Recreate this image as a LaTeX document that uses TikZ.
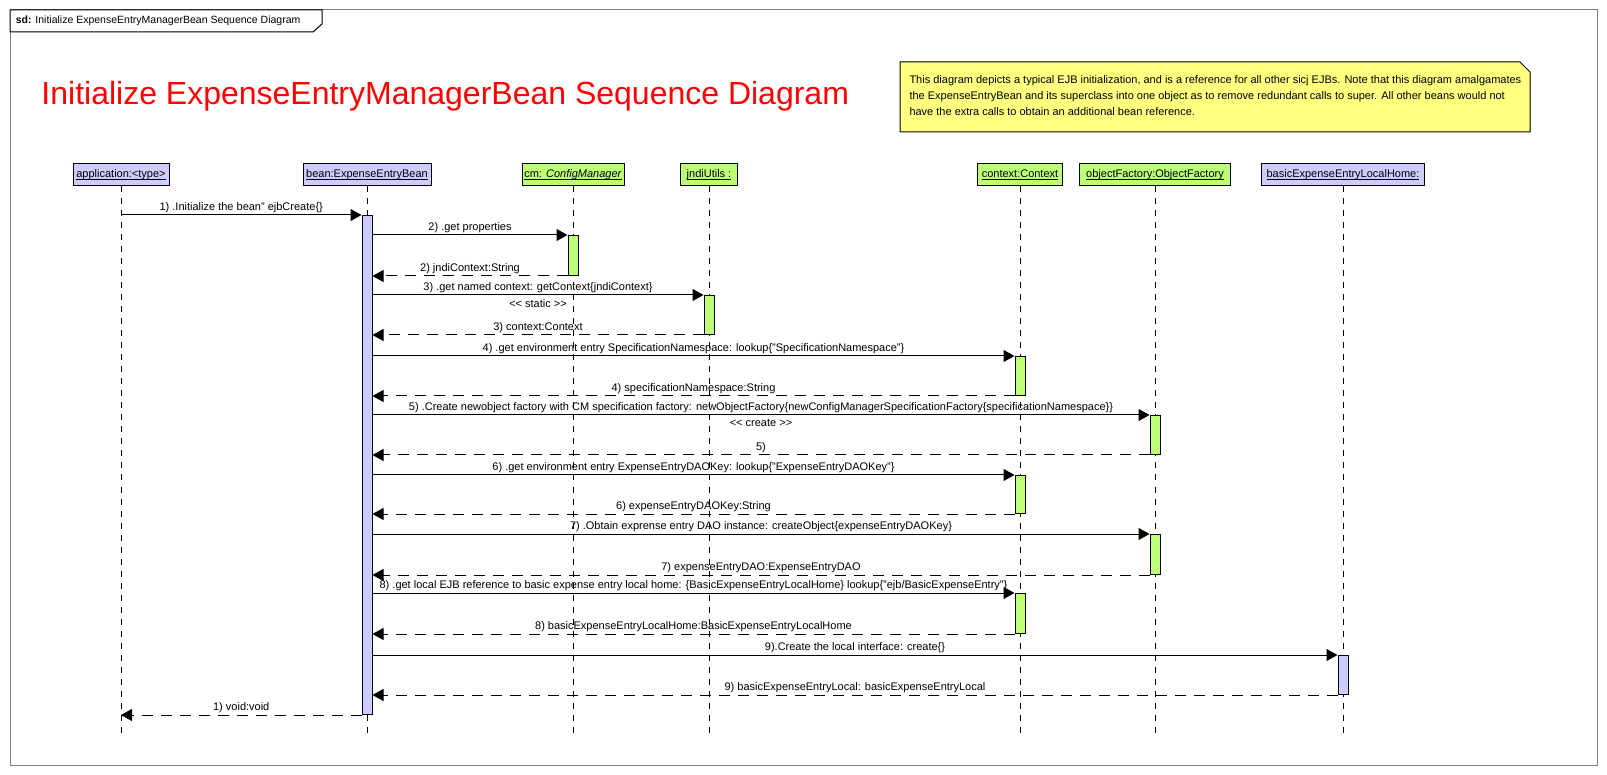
\documentclass[tikz,border=0pt]{standalone}
\usepackage{fontspec}
\setmainfont{Liberation Sans}
\usetikzlibrary{arrows.meta}

\definecolor{headblue}{RGB}{204,204,255}
\definecolor{headgreen}{RGB}{190,255,120}
\definecolor{noteyellow}{RGB}{255,255,128}
\definecolor{framegray}{RGB}{128,128,128}

\newcommand{\headname}[1]{\setbox0\hbox{#1}\rlap{\rule[-2pt]{\wd0}{0.9pt}}\box0}

\begin{document}
\begin{tikzpicture}[
        x=1pt, y=-1pt, line width=1pt,
        every node/.style={font=\fontsize{11}{13}\selectfont},
        headbox/.style={draw, minimum height=22, inner xsep=2, inner ysep=0},
        actbar/.style={draw, anchor=north, minimum width=10, inner sep=0},
        lifeline/.style={dash pattern=on 6pt off 6pt},
        call/.style={-{Triangle[length=11pt,width=12pt]}},
        ret/.style={call, dash pattern=on 11pt off 8pt},
        msg/.style={midway, above, inner sep=2pt},
        stereo/.style={midway, below, inner sep=4pt}
    ]
        \useasboundingbox (0,0) rectangle (1607,775);

        \draw[framegray] (10,10) rectangle (1597,765);
        \draw[fill=white] (10,10) -- (322,10) -- (322,24) -- (313,32) -- (10,32) -- cycle;
        \node[anchor=west, font=\fontsize{10.5}{13}\selectfont] (sdlabel) at (12,21) {\textbf{sd:} Initialize ExpenseEntryManagerBean Sequence Diagram};

        \node[anchor=base west, red, inner sep=0, font=\fontsize{32}{36}\selectfont] (title) at (41,105) {Initialize ExpenseEntryManagerBean Sequence Diagram};

        \draw[fill=noteyellow] (900,62) -- (1520,62) -- (1530,72) -- (1530,132) -- (900,132) -- cycle;
        \node[anchor=north west, align=left, inner sep=0, font=\fontsize{11}{16}\selectfont] (notetext) at (909,75) {This diagram depicts a typical EJB initialization, and is a reference for all other sicj EJBs. Note that this diagram amalgamates\\the ExpenseEntryBean and its superclass into one object as to remove redundant calls to super. All other beans would not\\have the extra calls to obtain an additional bean reference.};

        % lifeline heads
        \node[headbox, fill=headblue, minimum width=96] (app) at (121,175) {\headname{application:<type>}};
        \node[headbox, fill=headblue, minimum width=128] (bean) at (367,175) {\headname{bean:ExpenseEntryBean}};
        \node[headbox, fill=headgreen, minimum width=102] (cm) at (573,175) {\headname{cm: \textit{ConfigManager}}};
        \node[headbox, fill=headgreen, minimum width=57] (jndi) at (709,175) {\headname{jndiUtils :}};
        \node[headbox, fill=headgreen, minimum width=85] (ctx) at (1020,175) {\headname{context:Context}};
        \node[headbox, fill=headgreen, minimum width=151] (factory) at (1155,175) {\headname{objectFactory:ObjectFactory}};
        \node[headbox, fill=headblue, minimum width=163] (home) at (1343,175) {\headname{basicExpenseEntryLocalHome:}};

        \foreach \n in {app,bean,cm,jndi,ctx,factory,home}
            \draw[lifeline] (\n.south) -- (\n.south |- 0,734);

        % activations
        \node[actbar, fill=headblue, minimum height=499] (beanAct) at (bean.south |- 0,215) {};
        \node[actbar, fill=headgreen, minimum height=40] (cmAct) at (cm.south |- 0,235) {};
        \node[actbar, fill=headgreen, minimum height=39] (jndiAct) at (jndi.south |- 0,295) {};
        \node[actbar, fill=headgreen, minimum height=39] (ctxActA) at (ctx.south |- 0,356) {};
        \node[actbar, fill=headgreen, minimum height=39] (factoryActA) at (factory.south |- 0,415) {};
        \node[actbar, fill=headgreen, minimum height=38] (ctxActB) at (ctx.south |- 0,475) {};
        \node[actbar, fill=headgreen, minimum height=40] (factoryActB) at (factory.south |- 0,534) {};
        \node[actbar, fill=headgreen, minimum height=40] (ctxActC) at (ctx.south |- 0,593) {};
        \node[actbar, fill=headblue, minimum height=39] (homeAct) at (home.south |- 0,655) {};

        % messages
        \draw[call] (app.south |- beanAct.north) -- node[msg] {1) .Initialize the bean" ejbCreate\{\}} (beanAct.north west);
        \draw[call] (beanAct.east |- cmAct.north) -- node[msg] {2) .get properties} (cmAct.north west);
        \draw[ret] (cmAct.south west) -- node[msg] {2) jndiContext:String} (beanAct.east |- cmAct.south);
        \draw[call] (beanAct.east |- jndiAct.north) -- node[msg] {3) .get named context: getContext\{jndiContext\}} node[stereo] {<{}< static >{}>} (jndiAct.north west);
        \draw[ret] (jndiAct.south west) -- node[msg] {3) context:Context} (beanAct.east |- jndiAct.south);
        \draw[call] (beanAct.east |- ctxActA.north) -- node[msg] {4) .get environment entry SpecificationNamespace: lookup\{"SpecificationNamespace"\}} (ctxActA.north west);
        \draw[ret] (ctxActA.south west) -- node[msg] {4) specificationNamespace:String} (beanAct.east |- ctxActA.south);
        \draw[call] (beanAct.east |- factoryActA.north) -- node[msg] {5) .Create newobject factory with CM specification factory: newObjectFactory\{newConfigManagerSpecificationFactory\{specificationNamespace\}\}} node[stereo] {<{}< create >{}>} (factoryActA.north west);
        \draw[ret] (factoryActA.south west) -- node[msg] {5)} (beanAct.east |- factoryActA.south);
        \draw[call] (beanAct.east |- ctxActB.north) -- node[msg] {6) .get environment entry ExpenseEntryDAOKey: lookup\{"ExpenseEntryDAOKey"\}} (ctxActB.north west);
        \draw[ret] (ctxActB.south west) -- node[msg] {6) expenseEntryDAOKey:String} (beanAct.east |- ctxActB.south);
        \draw[call] (beanAct.east |- factoryActB.north) -- node[msg] {7) .Obtain exprense entry DAO instance: createObject\{expenseEntryDAOKey\}} (factoryActB.north west);
        \draw[ret] (factoryActB.south west) -- node[msg] {7) expenseEntryDAO:ExpenseEntryDAO} (beanAct.east |- factoryActB.south);
        \draw[call] (beanAct.east |- ctxActC.north) -- node[msg] {8) .get local EJB reference to basic expense entry local home: \{BasicExpenseEntryLocalHome\} lookup\{"ejb/BasicExpenseEntry"\}} (ctxActC.north west);
        \draw[ret] (ctxActC.south west) -- node[msg] {8) basicExpenseEntryLocalHome:BasicExpenseEntryLocalHome} (beanAct.east |- ctxActC.south);
        \draw[call] (beanAct.east |- homeAct.north) -- node[msg] {9).Create the local interface: create\{\}} (homeAct.north west);
        \draw[ret] (homeAct.south west) -- node[msg] {9) basicExpenseEntryLocal: basicExpenseEntryLocal} (beanAct.east |- homeAct.south);
        \draw[ret] (beanAct.south west) -- node[msg] {1) void:void} (app.south |- beanAct.south);
    \end{tikzpicture}
\end{document}
